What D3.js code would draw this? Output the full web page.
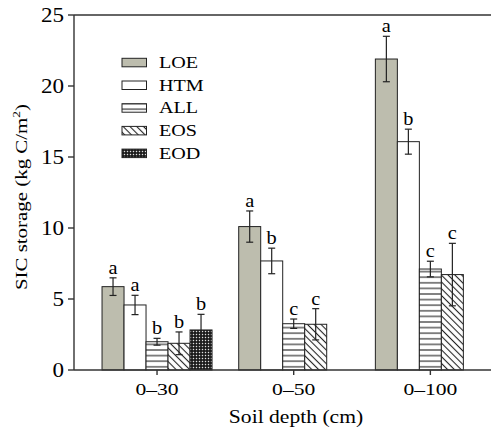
<!DOCTYPE html>
<html>
<head>
<meta charset="utf-8">
<script src="https://cdn.jsdelivr.net/npm/d3@7"></script>
<style>
  body { margin: 0; background: #fff; }
  svg { display: block; }
</style>
</head>
<body>
<svg id="chart" width="491" height="428"></svg>
<script>
// data
const groups = ["0–30", "0–50", "0–100"];
const series = ["LOE", "HTM", "ALL", "EOS", "EOD"];
const means = {
  LOE: [5.87, 10.1, 21.9],
  HTM: [4.58, 7.68, 16.08],
  ALL: [1.99, 3.26, 7.11],
  EOS: [1.88, 3.22, 6.72],
  EOD: [2.82, null, null]
};
const errs = {
  LOE: [0.62, 1.1, 1.6],
  HTM: [0.68, 0.9, 0.88],
  ALL: [0.24, 0.33, 0.55],
  EOS: [0.8, 1.1, 2.2],
  EOD: [1.1, null, null]
};
const letters = {
  LOE: ["a", "a", "a"],
  HTM: ["a", "b", "b"],
  ALL: ["b", "c", "c"],
  EOS: ["b", "c", "c"],
  EOD: ["b", null, null]
};
const yTicks = [0, 5, 10, 15, 20, 25];

// layout
const plotLeft = 74, plotTop = 15, plotBottom = 370, plotRight = 491;
const font = "'Liberation Serif', 'Times New Roman', serif";
const ink = "#222";

const svg = d3.select("#chart");

// patterns for the bar fills
const defs = svg.append("defs");

const pH = defs.append("pattern").attr("id", "pat-ALL")
  .attr("patternUnits", "userSpaceOnUse").attr("width", 6).attr("height", 5.6);
pH.append("rect").attr("width", 6).attr("height", 5.6).attr("fill", "#fff");
pH.append("line").attr("x1", 0).attr("x2", 6).attr("y1", 2.8).attr("y2", 2.8)
  .attr("stroke", ink).attr("stroke-width", 1.1);

const pD = defs.append("pattern").attr("id", "pat-EOS")
  .attr("patternUnits", "userSpaceOnUse").attr("width", 4.8).attr("height", 10)
  .attr("patternTransform", "rotate(-45)");
pD.append("rect").attr("width", 4.8).attr("height", 10).attr("fill", "#fff");
pD.append("line").attr("x1", 2.4).attr("x2", 2.4).attr("y1", 0).attr("y2", 10)
  .attr("stroke", ink).attr("stroke-width", 1.1);

const pO = defs.append("pattern").attr("id", "pat-EOD")
  .attr("patternUnits", "userSpaceOnUse").attr("width", 3).attr("height", 3);
pO.append("rect").attr("width", 3).attr("height", 3).attr("fill", "#141414");
pO.append("rect").attr("x", 0.8).attr("y", 0.8).attr("width", 1.4).attr("height", 1.4).attr("fill", "#e0e0e0");

const fills = {
  LOE: "#bdbdae",
  HTM: "#fff",
  ALL: "url(#pat-ALL)",
  EOS: "url(#pat-EOS)",
  EOD: "url(#pat-EOD)"
};

// scales
const y = d3.scaleLinear().domain([0, 25]).range([plotBottom, plotTop]);
const x = d3.scaleBand().domain(groups).range([88.7, 498.7]);
const xs = d3.scaleBand().domain(series).range([-55, 55]);

// text helper: the figure's serif type is a bit wider than Liberation Serif
function txt(g, x0, y0, s, size, sx, anchor, rot) {
  return g.append("text")
    .attr("transform", `translate(${x0},${y0}) rotate(${rot || 0}) scale(${sx},1)`)
    .attr("text-anchor", anchor || "middle")
    .attr("font-family", font)
    .attr("font-size", size)
    .attr("fill", "#000")
    .text(s);
}

// bars
const gBars = svg.append("g");
series.forEach(s => {
  groups.forEach((grp, i) => {
    const v = means[s][i];
    if (v == null) return;
    const bx = x(grp) + x.bandwidth() / 2 + xs(s);
    gBars.append("rect")
      .attr("x", bx).attr("y", y(v))
      .attr("width", xs.bandwidth()).attr("height", y(0) - y(v))
      .attr("fill", fills[s])
      .attr("stroke", ink).attr("stroke-width", 1);
  });
});

// error bars and letters
const gErr = svg.append("g").attr("stroke", ink).attr("stroke-width", 1.2);
series.forEach(s => {
  groups.forEach((grp, i) => {
    const v = means[s][i];
    if (v == null) return;
    const e = errs[s][i];
    const cx = x(grp) + x.bandwidth() / 2 + xs(s) + xs.bandwidth() / 2;
    gErr.append("line").attr("x1", cx).attr("x2", cx).attr("y1", y(v - e)).attr("y2", y(v + e));
    [v - e, v + e].forEach(t => {
      gErr.append("line").attr("x1", cx - 3.5).attr("x2", cx + 3.5).attr("y1", y(t)).attr("y2", y(t));
    });
    txt(svg, cx, y(v + e) - 4, letters[s][i], 18.5, 1.1);
  });
});

// axes
const gAx = svg.append("g").attr("stroke", "#333").attr("stroke-width", 1.4).attr("fill", "none");
gAx.append("line").attr("x1", plotLeft).attr("x2", plotRight).attr("y1", plotBottom).attr("y2", plotBottom);
gAx.append("line").attr("x1", plotLeft).attr("x2", plotRight).attr("y1", plotTop).attr("y2", plotTop);
gAx.append("line").attr("x1", plotLeft).attr("x2", plotLeft).attr("y1", plotTop).attr("y2", plotBottom);

yTicks.forEach(t => {
  gAx.append("line").attr("x1", plotLeft - 6).attr("x2", plotLeft).attr("y1", y(t)).attr("y2", y(t));
  txt(svg, 64, y(t) + 7, String(t), 21, 1.1, "end");
});

groups.forEach(grp => {
  const cx = x(grp) + x.bandwidth() / 2;
  gAx.append("line").attr("x1", cx).attr("x2", cx).attr("y1", plotBottom).attr("y2", plotBottom + 5);
  txt(svg, cx, 395, grp, 17, 1.27);
});

// axis titles
txt(svg, 296, 423, "Soil depth (cm)", 18, 1.2);
const yt = txt(svg, 27, 197, "SIC storage (kg C/m", 17, 1.23, "middle", -90);
yt.append("tspan").attr("font-size", 11).attr("dy", -7).text("2");
yt.append("tspan").attr("dy", 7).text(")");

// legend
const legY0 = 58.3, legStep = 22.7;
const gLeg = svg.append("g");
series.forEach((s, i) => {
  const ly = legY0 + i * legStep;
  gLeg.append("rect")
    .attr("x", 122).attr("y", ly)
    .attr("width", 24.5).attr("height", 8.5)
    .attr("fill", fills[s])
    .attr("stroke", ink).attr("stroke-width", 1);
  txt(gLeg, 159, ly + 9.5, s, 16.5, 1.22, "start");
});
</script>
</body>
</html>
